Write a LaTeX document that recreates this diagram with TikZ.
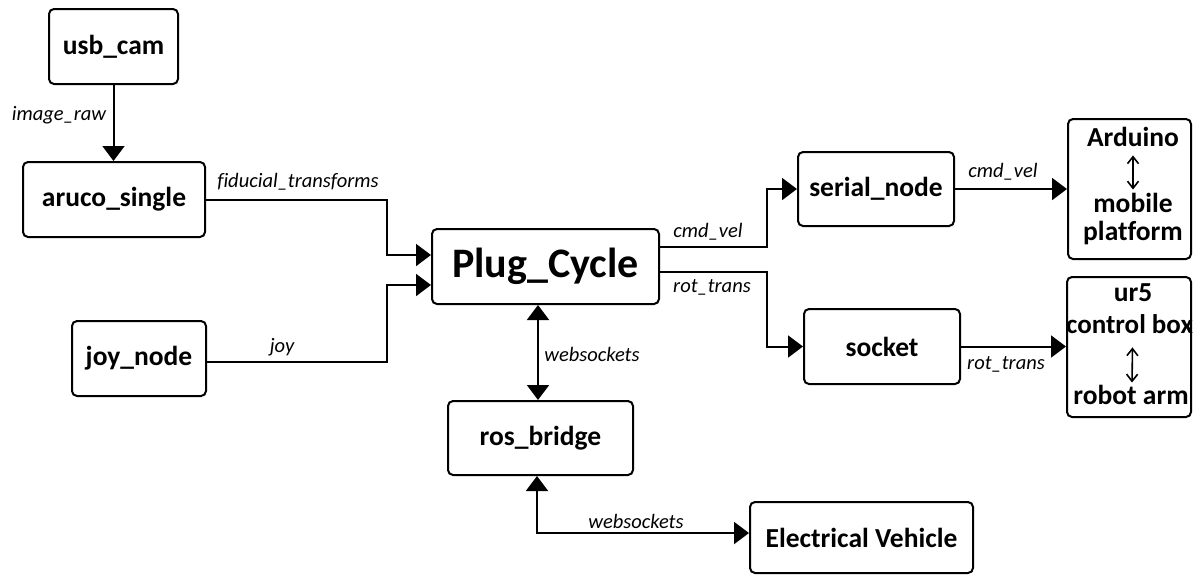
\documentclass[tikz,border=0pt]{standalone}
\usepackage{fontspec}
\setmainfont{Carlito}[Ligatures=NoCommon]
\usetikzlibrary{arrows.meta, positioning}

\begin{document}
\begin{tikzpicture}[x=1pt, y=-1pt,
    box/.style={draw, line width=2pt, rounded corners=5pt, inner sep=0pt, align=center,
        minimum height=75pt, font=\fontsize{27.5}{33}\selectfont\bfseries},
    txt/.style={font=\fontsize{27.5}{33}\selectfont\bfseries, inner sep=0pt, anchor=base},
    lbl/.style={font=\fontsize{20.5}{24}\selectfont\itshape, inner sep=0pt, anchor=base},
    arr/.style={line width=2pt, -{Triangle[length=15pt, width=22pt]}},
    dblarr/.style={line width=2pt, {Triangle[length=15pt, width=22pt]}-{Triangle[length=15pt, width=22pt]}},
    linkarr/.style={line width=1.6pt, {Straight Barb[length=7pt, width=11pt]}-{Straight Barb[length=7pt, width=11pt]}}]
        \useasboundingbox (0,0) rectangle (1193,576);

        % Camera and marker detection
        \node[box, minimum width=129pt] (usb) at (113.5,46.5) {usb\_cam};
        \node[box, minimum width=182pt] (aruco) at (114,199.5) {aruco\_single};
        \node[box, minimum width=134pt] (joy) at (139,358.5) {joy\_node};

        % Main node
        \node[box, minimum width=227pt, font=\fontsize{42}{50}\selectfont\bfseries] (plug) at (545.5,266.5) {Plug\_Cycle};

        % Outputs
        \node[box, minimum width=156pt, minimum height=74pt] (serial) at (876,189) {serial\_node};
        \node[box, minimum width=156pt] (socket) at (882,346.5) {socket};
        \node[box, minimum width=185pt, minimum height=74pt] (ros) at (540.5,438) {ros\_bridge};
        \node[box, minimum width=223pt, minimum height=71pt] (ev) at (861.5,537.5) {Electrical Vehicle};

        % Arduino / mobile platform
        \node[box, minimum width=123pt, minimum height=140pt] (ard) at (1129.5,189) {};
        \node[txt] (ardtxt) at (1133,146) {Arduino};
        \node[txt] (mob) at (1133,212) {mobile};
        \node[txt] (plat) at (1133,240) {platform};
        \draw[linkarr] ([yshift=-9pt]ardtxt.south) -- ([yshift=3pt]mob.north);

        % ur5 / robot arm
        \node[box, minimum width=124pt, minimum height=140pt] (ur) at (1129,347) {};
        \node[txt] (urtxt) at (1133,301) {ur5};
        \node[txt, font=\fontsize{27}{33}\selectfont\bfseries] (ctrl) at (1129.5,333) {control box};
        \node[txt] (rob) at (1131,404) {robot arm};
        \draw[linkarr] ([xshift=3pt, yshift=-14pt]ctrl.south) -- ([xshift=1pt, yshift=2pt]rob.north);

        % Topics
        \draw[arr] (usb.south) -- (usb.south |- aruco.north);
        \node[lbl] (lraw) at (59,120) {image\_raw};

        \draw[arr] (aruco.east) -- ++(181,0) |- ([yshift=11.5pt]plug.west);
        \node[lbl] (lfid) at (298,187) {fiducial\_transforms};

        \draw[arr] ([yshift=-3.5pt]joy.east) -- ++(180,0) |- ([yshift=-18.5pt]plug.west);
        \node[lbl] (ljoy) at (282,352) {joy};

        \draw[arr] ([yshift=19.5pt]plug.east) -- ++(107,0) |- (serial.west);
        \node[lbl] (lcmd) at (708,237) {cmd\_vel};

        \draw[arr] ([yshift=-5.5pt]plug.east) -- ++(107,0) |- (socket.west);
        \node[lbl] (lrot) at (712,292) {rot\_trans};

        \draw[arr] (serial.east) -- (serial.east -| ard.west);
        \node[lbl] (lcmdb) at (1003,177) {cmd\_vel};

        \draw[arr] (socket.east) -- (socket.east -| ur.west);
        \node[lbl] (lrotb) at (1006,369) {rot\_trans};

        % Websockets
        \draw[dblarr] ([xshift=-7.5pt]plug.south) -- ([xshift=-7.5pt]plug.south |- ros.north);
        \node[lbl] (lws) at (592,361) {websockets};

        \draw[dblarr] ([xshift=-3.5pt]ros.south) |- ([yshift=4.5pt]ev.west);
        \node[lbl] (lwsb) at (636,528) {websockets};

    \end{tikzpicture}
\end{document}
